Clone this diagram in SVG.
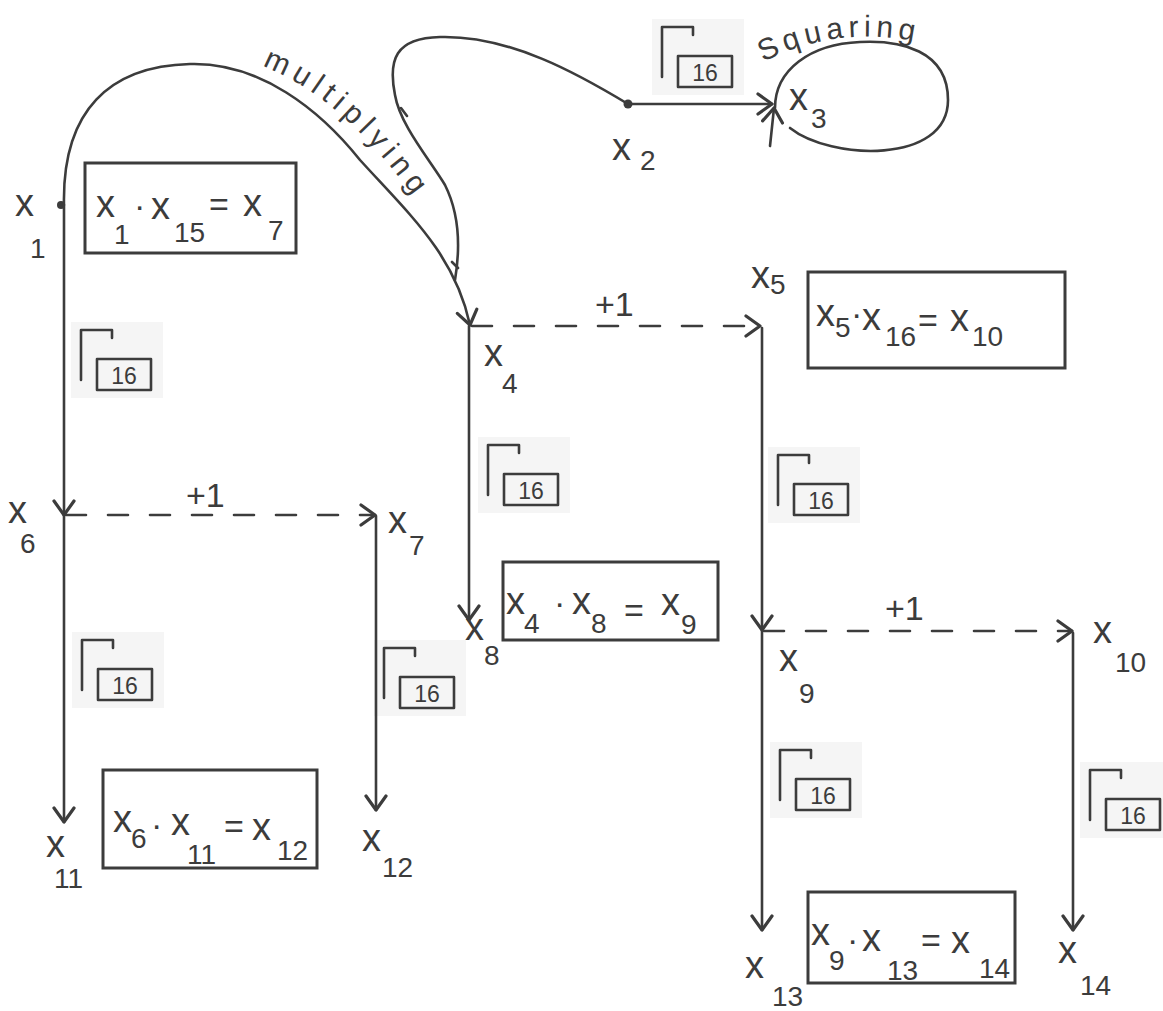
<svg xmlns="http://www.w3.org/2000/svg" xmlns:xlink="http://www.w3.org/1999/xlink" width="1163" height="1011" viewBox="0 0 1163 1011">
<style>
.pen{fill:none;stroke:#3c3c3c;stroke-width:2.6;stroke-linecap:round;stroke-linejoin:round}
.dash{stroke-dasharray:20 22}
.box{fill:none;stroke:#3c3c3c;stroke-width:3}
text{font-family:"Liberation Sans",Arial,sans-serif;fill:#3c3c3c}
.v{font-size:38px}
.s{font-size:28px}
.op{font-size:34px}
.c{font-size:23px}
.w{font-size:30px;letter-spacing:6px}
</style>
<defs>
<marker id="ah" markerUnits="userSpaceOnUse" viewBox="-16 -12 20 24" markerWidth="20" markerHeight="24" refX="0" refY="0" orient="auto">
<path d="M-14,-10 L0,0 L-14,10" fill="none" stroke="#3c3c3c" stroke-width="3.2" stroke-linecap="round" stroke-linejoin="round"/>
</marker>
<g id="g16">
<rect x="-10" y="-8" width="92" height="76" fill="#f5f5f5"/>
<path class="pen" d="M0,50 V0 H31 v8"/>
<rect class="pen" x="16" y="29" width="54" height="31"/>
<text class="c" x="43" y="54" text-anchor="middle">16</text>
</g>
<path id="pMult" d="M262,66 C330,92 385,150 448,246"/>
<path id="pSq" d="M763,62 Q850,18 948,50"/>
</defs>
<rect width="1163" height="1011" fill="#ffffff"/>

<!-- ceiling symbols -->
<g id="ceil-x2"><use xlink:href="#g16" x="662" y="27"/></g>
<g id="ceil-x1"><use xlink:href="#g16" x="81" y="330"/></g>
<g id="ceil-x4"><use xlink:href="#g16" x="488" y="445"/></g>
<g id="ceil-x5"><use xlink:href="#g16" x="778" y="455"/></g>
<g id="ceil-x6"><use xlink:href="#g16" x="82" y="640"/></g>
<g id="ceil-x7"><use xlink:href="#g16" x="384" y="648"/></g>
<g id="ceil-x9"><use xlink:href="#g16" x="780" y="750"/></g>
<g id="ceil-x10"><use xlink:href="#g16" x="1090" y="770"/></g>

<g id="connectors">
<path class="pen" d="M64,205 C62,110 110,66 190,64 C260,62 320,110 360,160 C410,215 455,255 470,325" marker-end="url(#ah)"/>
<path class="pen" d="M628,104 C580,75 510,35 440,37 C395,38 388,60 395,95 C400,125 430,160 445,185 C460,215 460,250 455,280"/>
<path class="pen" d="M401,108 l6,8 M452,262 l6,6"/>
<path class="pen" d="M628,104 H772" marker-end="url(#ah)"/>
<path class="pen" d="M790,128 C830,160 948,165 948,100 C948,50 900,40 860,42 C810,44 775,70 775,108" />
<path class="pen" d="M770,146 L774,108" marker-end="url(#ah)"/>
<path class="pen" d="M64,205 V515" marker-end="url(#ah)"/>
<path class="pen" d="M64,515 V822" marker-end="url(#ah)"/>
<path class="pen dash" d="M66,515 H375" marker-end="url(#ah)"/>
<path class="pen" d="M376,516 V810" marker-end="url(#ah)"/>
<path class="pen dash" d="M472,326 H760" marker-end="url(#ah)"/>
<path class="pen" d="M469,326 V620" marker-end="url(#ah)"/>
<path class="pen" d="M762,328 V630" marker-end="url(#ah)"/>
<path class="pen dash" d="M764,631 H1072" marker-end="url(#ah)"/>
<path class="pen" d="M762,631 V930" marker-end="url(#ah)"/>
<path class="pen" d="M1073,633 V930" marker-end="url(#ah)"/>
<text class="w"><textPath xlink:href="#pMult">multiplying</textPath></text>
<text class="w" style="letter-spacing:5px"><textPath xlink:href="#pSq">Squaring</textPath></text>
<text class="op" x="186" y="507">+1</text>
<text class="op" x="595" y="316">+1</text>
<text class="op" x="885" y="620">+1</text>
</g>

<!-- variable nodes -->
<g id="node-x1"><circle cx="61" cy="205" r="4" fill="#3c3c3c"/><text class="v" x="15" y="216">x</text><text class="s" x="30" y="258">1</text></g>
<g id="node-x2"><circle cx="628" cy="104" r="4.5" fill="#3c3c3c"/><text class="v" x="612" y="160">x</text><text class="s" x="640" y="170">2</text></g>
<g id="node-x3"><text class="v" x="789" y="110">x</text><text class="s" x="811" y="128">3</text></g>
<g id="node-x4"><text class="v" x="484" y="366">x</text><text class="s" x="502" y="393">4</text></g>
<g id="node-x5"><text class="v" x="751" y="288">x</text><text class="s" x="770" y="294">5</text></g>
<g id="node-x6"><text class="v" x="8" y="523">x</text><text class="s" x="20" y="553">6</text></g>
<g id="node-x7"><text class="v" x="388" y="533">x</text><text class="s" x="409" y="555">7</text></g>
<g id="node-x8"><text class="v" x="465" y="640">x</text><text class="s" x="484" y="665">8</text></g>
<g id="node-x9"><text class="v" x="779" y="671">x</text><text class="s" x="799" y="703">9</text></g>
<g id="node-x10"><text class="v" x="1093" y="643">x</text><text class="s" x="1115" y="672">10</text></g>
<g id="node-x11"><text class="v" x="46" y="857">x</text><text class="s" x="54" y="888">11</text></g>
<g id="node-x12"><text class="v" x="362" y="851">x</text><text class="s" x="382" y="877">12</text></g>
<g id="node-x13"><text class="v" x="745" y="978">x</text><text class="s" x="772" y="1006">13</text></g>
<g id="node-x14"><text class="v" x="1058" y="963">x</text><text class="s" x="1080" y="995">14</text></g>

<!-- equation boxes -->
<g id="box-x1x15">
<rect class="box" x="85" y="163" width="211" height="90"/>
<text class="v" x="96" y="217">x</text><text class="s" x="114" y="244">1</text>
<text class="op" x="134" y="217">·</text>
<text class="v" x="151" y="219">x</text><text class="s" x="174" y="242">15</text>
<text class="op" x="209" y="216">=</text>
<text class="v" x="243" y="216">x</text><text class="s" x="268" y="240">7</text>
</g>
<g id="box-x5x16">
<rect class="box" x="808" y="272" width="257" height="96"/>
<text class="v" x="816" y="326">x</text><text class="s" x="835" y="337">5</text>
<text class="op" x="851" y="325">·</text>
<text class="v" x="862" y="330">x</text><text class="s" x="885" y="346">16</text>
<text class="op" x="918" y="332">=</text>
<text class="v" x="950" y="331">x</text><text class="s" x="972" y="346">10</text>
</g>
<g id="box-x4x8">
<rect class="box" x="503" y="562" width="215" height="78"/>
<text class="v" x="506" y="614">x</text><text class="s" x="524" y="633">4</text>
<text class="op" x="554" y="614">·</text>
<text class="v" x="572" y="614">x</text><text class="s" x="591" y="633">8</text>
<text class="op" x="624" y="622">=</text>
<text class="v" x="661" y="615">x</text><text class="s" x="681" y="634">9</text>
</g>
<g id="box-x6x11">
<rect class="box" x="103" y="770" width="214" height="98"/>
<text class="v" x="113" y="832">x</text><text class="s" x="131" y="848">6</text>
<text class="op" x="151" y="836">·</text>
<text class="v" x="171" y="835">x</text><text class="s" x="187" y="864">11</text>
<text class="op" x="224" y="838">=</text>
<text class="v" x="252" y="840">x</text><text class="s" x="277" y="860">12</text>
</g>
<g id="box-x9x13">
<rect class="box" x="808" y="892" width="207" height="91"/>
<text class="v" x="811" y="945">x</text><text class="s" x="829" y="970">9</text>
<text class="op" x="847" y="951">·</text>
<text class="v" x="862" y="951">x</text><text class="s" x="887" y="980">13</text>
<text class="op" x="921" y="952">=</text>
<text class="v" x="951" y="953">x</text><text class="s" x="979" y="978">14</text>
</g>
</svg>
